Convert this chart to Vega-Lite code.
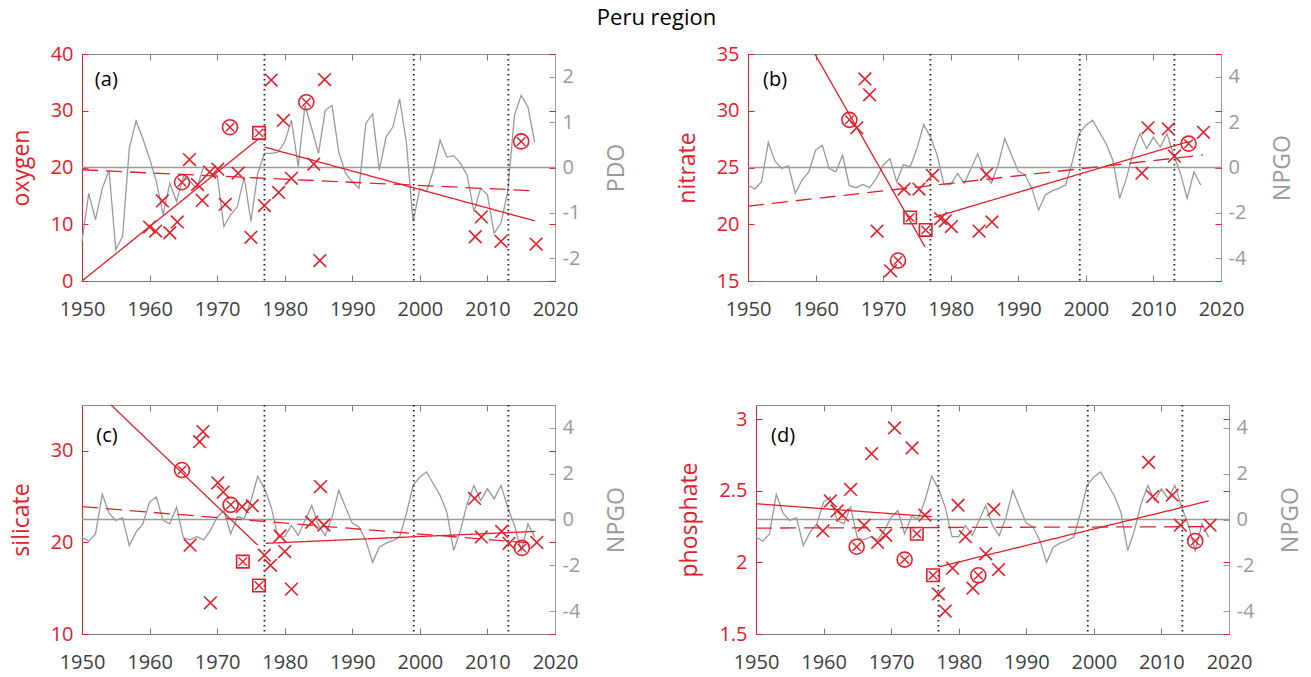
{
  "$schema": "https://vega.github.io/schema/vega-lite/v6.json",
  "background": "white",
  "padding": {"left": 9, "top": 6, "right": 5, "bottom": 5},
  "title": {"text": "Peru region", "fontSize": 22, "fontWeight": "normal", "font": "Open Sans", "color": "#000000", "anchor": "middle", "offset": 14},
  "config": {
    "font": "Open Sans",
    "view": {"stroke": "#8a8a8a", "strokeWidth": 1},
    "axis": {"grid": false, "labelFont": "Open Sans", "titleFont": "Open Sans", "labelFontSize": 20, "titleFontSize": 23, "titleFontWeight": "normal", "labelFlush": false, "labelOverlap": false, "tickSize": -6, "tickWidth": 1, "domainWidth": 1},
    "axisBottom": {"labelColor": "#404040", "domainColor": "#7a7a7a", "tickColor": "#7a7a7a", "labelPadding": 24},
    "axisTop": {"labels": false, "domain": false, "tickColor": "#7a7a7a"},
    "axisLeft": {"labelColor": "#e2202a", "titleColor": "#e2202a", "domainColor": "#e2202a", "tickColor": "#e2202a", "labelPadding": 15, "titlePadding": 17},
    "axisRight": {"labelColor": "#9a9a9a", "titleColor": "#9a9a9a", "domainColor": "#9a9a9a", "tickColor": "#9a9a9a", "labelPadding": 13, "titlePadding": 26, "titleAngle": 270, "titleBaseline": "top"}
  },
  "datasets": {
    "pdo": [
      {"x":1950,"v":-1.63},{"x":1951,"v":-0.57},{"x":1952,"v":-1.15},{"x":1953,"v":-0.46},{"x":1954,"v":-0.06},{"x":1955,"v":-1.81},{"x":1956,"v":-1.52},{"x":1957,"v":0.42},{"x":1958,"v":1.02},{"x":1959,"v":0.64},
      {"x":1960,"v":0.2},{"x":1961,"v":-0.31},{"x":1962,"v":-1.04},{"x":1963,"v":-0.35},{"x":1964,"v":-0.75},{"x":1965,"v":-0.2},{"x":1966,"v":-0.31},{"x":1967,"v":-0.46},{"x":1968,"v":0.02},{"x":1969,"v":-0.13},
      {"x":1970,"v":-0.17},{"x":1971,"v":-1.3},{"x":1972,"v":-1.04},{"x":1973,"v":-0.86},{"x":1974,"v":-0.2},{"x":1975,"v":-1.19},{"x":1976,"v":-0.13},{"x":1977,"v":0.31},{"x":1978,"v":0.31},{"x":1979,"v":0.34},
      {"x":1980,"v":0.56},{"x":1981,"v":1.04},{"x":1982,"v":0.02},{"x":1983,"v":1.37},{"x":1984,"v":0.86},{"x":1985,"v":0.31},{"x":1986,"v":1.26},{"x":1987,"v":1.37},{"x":1988,"v":0.34},{"x":1989,"v":-0.13},
      {"x":1990,"v":-0.31},{"x":1991,"v":-0.46},{"x":1992,"v":0.97},{"x":1993,"v":1.18},{"x":1994,"v":-0.06},{"x":1995,"v":0.67},{"x":1996,"v":0.89},{"x":1997,"v":1.51},{"x":1998,"v":0.56},{"x":1999,"v":-1.19},
      {"x":2000,"v":-0.46},{"x":2001,"v":-0.53},{"x":2002,"v":-0.06},{"x":2003,"v":0.6},{"x":2004,"v":0.23},{"x":2005,"v":0.26},{"x":2006,"v":0.09},{"x":2007,"v":-0.17},{"x":2008,"v":-0.97},{"x":2009,"v":-0.46},
      {"x":2010,"v":-0.6},{"x":2011,"v":-1.45},{"x":2012,"v":-1.23},{"x":2013,"v":-0.53},{"x":2014,"v":1.15},{"x":2015,"v":1.59},{"x":2016,"v":1.33},{"x":2017,"v":0.56}
    ],
    "npgo": [
      {"x":1950,"v":-0.77},{"x":1951,"v":-0.95},{"x":1952,"v":-0.63},{"x":1953,"v":1.1},{"x":1954,"v":0.28},{"x":1955,"v":-0.04},{"x":1956,"v":0.07},{"x":1957,"v":-1.14},{"x":1958,"v":-0.55},{"x":1959,"v":-0.19},
      {"x":1960,"v":0.76},{"x":1961,"v":0.98},{"x":1962,"v":-0.04},{"x":1963,"v":-0.19},{"x":1964,"v":0.54},{"x":1965,"v":-0.8},{"x":1966,"v":-0.89},{"x":1967,"v":-0.75},{"x":1968,"v":-0.89},{"x":1969,"v":-0.48},
      {"x":1970,"v":0.1},{"x":1971,"v":0.39},{"x":1972,"v":-0.63},{"x":1973,"v":0.13},{"x":1974,"v":0.03},{"x":1975,"v":0.83},{"x":1976,"v":1.89},{"x":1977,"v":1.35},{"x":1978,"v":0.54},{"x":1979,"v":-0.75},
      {"x":1980,"v":-0.75},{"x":1981,"v":-0.26},{"x":1982,"v":-0.7},{"x":1983,"v":-0.04},{"x":1984,"v":0.61},{"x":1985,"v":-0.26},{"x":1986,"v":-0.7},{"x":1987,"v":0.1},{"x":1988,"v":1.27},{"x":1989,"v":0.54},
      {"x":1990,"v":-0.16},{"x":1991,"v":-0.33},{"x":1992,"v":-0.92},{"x":1993,"v":-1.87},{"x":1994,"v":-1.21},{"x":1995,"v":-1.03},{"x":1996,"v":-0.92},{"x":1997,"v":-0.77},{"x":1998,"v":0.25},{"x":1999,"v":1.49},
      {"x":2000,"v":1.86},{"x":2001,"v":2.08},{"x":2002,"v":1.56},{"x":2003,"v":1.05},{"x":2004,"v":0.32},{"x":2005,"v":-1.36},{"x":2006,"v":-0.48},{"x":2007,"v":0.69},{"x":2008,"v":1.49},{"x":2009,"v":0.83},
      {"x":2010,"v":1.34},{"x":2011,"v":0.9},{"x":2012,"v":1.49},{"x":2013,"v":0.54},{"x":2014,"v":-0.26},{"x":2015,"v":-1.36},{"x":2016,"v":-0.19},{"x":2017,"v":-0.77}
    ],
    "vlines": [{"x":1977},{"x":1999.1},{"x":2013.1}],
    "fitA": [{"seg":"s1","x":1950,"y":0},{"seg":"s1","x":1976.2,"y":25.1},{"seg":"s2","x":1977,"y":23.6},{"seg":"s2","x":2017,"y":10.6},{"seg":"d","x":1950,"y":19.6},{"seg":"d","x":2017,"y":15.9}],
    "fitB": [{"seg":"s1","x":1959.9,"y":35},{"seg":"s1","x":1976.2,"y":18.0},{"seg":"s2","x":1977.5,"y":20.6},{"seg":"s2","x":2015.3,"y":27.3},{"seg":"d","x":1950,"y":21.6},{"seg":"d","x":2017.3,"y":26.1}],
    "fitC": [{"seg":"s1","x":1954.3,"y":35},{"seg":"s1","x":1976,"y":19.7},{"seg":"s2","x":1977.2,"y":19.9},{"seg":"s2","x":2017.1,"y":21.2},{"seg":"d","x":1950,"y":23.9},{"seg":"d","x":2017,"y":19.9}],
    "fitD": [{"seg":"s1","x":1950,"y":2.41},{"seg":"s1","x":1976,"y":2.32},{"seg":"s2","x":1977.1,"y":1.97},{"seg":"s2","x":2017,"y":2.43},{"seg":"d","x":1950,"y":2.24},{"seg":"d","x":2017.2,"y":2.25}],
    "ptsA": [
      {"x":1960.0,"y":9.5,"m":"x"},{"x":1960.9,"y":8.8,"m":"x"},{"x":1961.9,"y":14.1,"m":"x"},{"x":1963.0,"y":8.5,"m":"x"},{"x":1964.1,"y":10.4,"m":"x"},{"x":1964.8,"y":17.4,"m":"o"},
      {"x":1965.9,"y":21.4,"m":"x"},{"x":1967.1,"y":17.0,"m":"x"},{"x":1967.8,"y":14.2,"m":"x"},{"x":1968.9,"y":19.2,"m":"x"},{"x":1970.1,"y":19.7,"m":"x"},{"x":1971.2,"y":13.5,"m":"x"},
      {"x":1971.9,"y":27.1,"m":"o"},{"x":1973.1,"y":19.0,"m":"x"},{"x":1975.0,"y":7.7,"m":"x"},{"x":1976.2,"y":26.1,"m":"s"},{"x":1977.0,"y":13.3,"m":"x"},{"x":1978.0,"y":35.4,"m":"x"},
      {"x":1979.1,"y":15.6,"m":"x"},{"x":1979.8,"y":28.3,"m":"x"},{"x":1981.0,"y":18.1,"m":"x"},{"x":1983.2,"y":31.5,"m":"o"},{"x":1984.3,"y":20.6,"m":"x"},{"x":1985.2,"y":3.6,"m":"x"},
      {"x":1985.9,"y":35.5,"m":"x"},{"x":2008.2,"y":7.8,"m":"x"},{"x":2009.1,"y":11.3,"m":"x"},{"x":2012.0,"y":7.0,"m":"x"},{"x":2015.0,"y":24.6,"m":"o"},{"x":2017.2,"y":6.5,"m":"x"}
    ],
    "ptsB": [
      {"x":1965.0,"y":29.2,"m":"o"},{"x":1966.1,"y":28.5,"m":"x"},{"x":1967.3,"y":32.8,"m":"x"},{"x":1968.0,"y":31.4,"m":"x"},{"x":1969.1,"y":19.4,"m":"x"},{"x":1971.1,"y":15.9,"m":"x"},
      {"x":1972.2,"y":16.8,"m":"o"},{"x":1973.1,"y":23.1,"m":"x"},{"x":1975.3,"y":23.1,"m":"x"},{"x":1974.0,"y":20.6,"m":"s"},{"x":1976.3,"y":19.5,"m":"s"},{"x":1977.3,"y":24.3,"m":"x"},
      {"x":1978.5,"y":20.5,"m":"x"},{"x":1979.2,"y":20.3,"m":"x"},{"x":1980.1,"y":19.8,"m":"x"},{"x":1984.2,"y":19.4,"m":"x"},{"x":1985.3,"y":24.4,"m":"x"},{"x":1986.1,"y":20.2,"m":"x"},
      {"x":2008.3,"y":24.5,"m":"x"},{"x":2009.2,"y":28.5,"m":"x"},{"x":2012.2,"y":28.4,"m":"x"},{"x":2013.1,"y":26.0,"m":"x"},{"x":2015.2,"y":27.1,"m":"o"},{"x":2017.4,"y":28.1,"m":"x"}
    ],
    "ptsC": [
      {"x":1964.8,"y":27.9,"m":"o"},{"x":1966.0,"y":19.7,"m":"x"},{"x":1967.4,"y":31.0,"m":"x"},{"x":1967.9,"y":32.1,"m":"x"},{"x":1969.0,"y":13.4,"m":"x"},{"x":1970.1,"y":26.5,"m":"x"},
      {"x":1970.9,"y":25.5,"m":"x"},{"x":1972.0,"y":24.1,"m":"o"},{"x":1973.7,"y":23.9,"m":"x"},{"x":1975.2,"y":24.0,"m":"x"},{"x":1973.8,"y":17.9,"m":"s"},{"x":1976.2,"y":15.3,"m":"s"},
      {"x":1977.0,"y":18.6,"m":"x"},{"x":1977.9,"y":17.5,"m":"x"},{"x":1979.3,"y":20.7,"m":"x"},{"x":1980.0,"y":19.0,"m":"x"},{"x":1981.0,"y":14.9,"m":"x"},{"x":1984.0,"y":22.2,"m":"x"},
      {"x":1985.3,"y":26.1,"m":"x"},{"x":1985.8,"y":21.9,"m":"x"},{"x":2008.1,"y":24.8,"m":"x"},{"x":2009.1,"y":20.6,"m":"x"},{"x":2012.1,"y":21.2,"m":"x"},{"x":2013.2,"y":19.9,"m":"x"},
      {"x":2015.1,"y":19.4,"m":"o"},{"x":2017.3,"y":20.0,"m":"x"}
    ],
    "ptsD": [
      {"x":1959.9,"y":2.22,"m":"x"},{"x":1961.0,"y":2.43,"m":"x"},{"x":1962.0,"y":2.36,"m":"x"},{"x":1962.8,"y":2.33,"m":"x"},{"x":1964.0,"y":2.51,"m":"x"},{"x":1964.9,"y":2.11,"m":"o"},
      {"x":1966.0,"y":2.26,"m":"x"},{"x":1967.1,"y":2.76,"m":"x"},{"x":1968.0,"y":2.14,"m":"x"},{"x":1969.2,"y":2.19,"m":"x"},{"x":1970.5,"y":2.94,"m":"x"},{"x":1972.0,"y":2.02,"m":"o"},
      {"x":1973.1,"y":2.80,"m":"x"},{"x":1973.8,"y":2.20,"m":"s"},{"x":1975.0,"y":2.33,"m":"x"},{"x":1976.2,"y":1.91,"m":"s"},{"x":1977.0,"y":1.78,"m":"x"},{"x":1978.0,"y":1.66,"m":"x"},
      {"x":1979.1,"y":1.96,"m":"x"},{"x":1979.9,"y":2.40,"m":"x"},{"x":1981.0,"y":2.18,"m":"x"},{"x":1982.1,"y":1.82,"m":"x"},{"x":1982.9,"y":1.91,"m":"o"},{"x":1984.0,"y":2.06,"m":"x"},
      {"x":1985.2,"y":2.37,"m":"x"},{"x":1985.9,"y":1.95,"m":"x"},{"x":2008.1,"y":2.70,"m":"x"},{"x":2008.7,"y":2.46,"m":"x"},{"x":2011.6,"y":2.47,"m":"x"},{"x":2012.8,"y":2.26,"m":"x"},
      {"x":2015.0,"y":2.15,"m":"o"},{"x":2017.2,"y":2.26,"m":"x"}
    ]
  },
  "spacing": 81,
  "vconcat": [
    {
      "spacing": 193,
      "bounds": "flush",
      "hconcat": [
        {
          "width": 473, "height": 227,
          "resolve": {"scale": {"y": "independent"}, "axis": {"x": "independent", "y": "independent"}},
          "layer": [
            {"layer": [
              {"data": {"name": "pdo"}, "mark": {"type": "line", "color": "#9a9a9a", "strokeWidth": 1.3},
               "encoding": {
                 "x": {"field": "x", "type": "quantitative", "scale": {"domain": [1950, 2020], "nice": false, "zero": false}, "axis": {"orient": "top", "values": [1950,1960,1970,1980,1990,2000,2010,2020], "labels": false, "domain": false, "title": null}},
                 "y": {"field": "v", "type": "quantitative", "scale": {"domain": [-2.5, 2.5], "nice": false, "zero": false}, "axis": {"orient": "right", "values": [-2,-1,0,1,2], "title": "PDO", "labelExpr": "datum.value < 0 ? '-' + format(-datum.value, 'd') : datum.label"}}
               }},
              {"data": {"values": [{}]}, "mark": {"type": "rule", "color": "#9a9a9a", "strokeWidth": 1.3},
               "encoding": {"y": {"datum": 0, "type": "quantitative", "axis": {"orient": "right", "values": [-2,-1,0,1,2], "title": "PDO", "labelExpr": "datum.value < 0 ? '-' + format(-datum.value, 'd') : datum.label"}}}}
            ]},
            {"layer": [
              {"data": {"name": "vlines"}, "mark": {"type": "rule", "color": "#222222", "strokeWidth": 1.8, "strokeDash": [1.5, 3.5]},
               "encoding": {"x": {"field": "x", "type": "quantitative", "scale": {"domain": [1950, 2020], "nice": false, "zero": false}, "axis": {"orient": "bottom", "values": [1950,1960,1970,1980,1990,2000,2010,2020], "format": "d", "title": null}}}},
              {"data": {"name": "fitA"}, "mark": {"type": "line", "color": "#e2202a", "strokeWidth": 1.3},
               "encoding": {
                 "x": {"field": "x", "type": "quantitative", "scale": {"domain": [1950, 2020], "nice": false, "zero": false}},
                 "y": {"field": "y", "type": "quantitative", "scale": {"domain": [0, 40], "nice": false, "zero": false}, "axis": {"orient": "left", "values": [0,10,20,30,40], "title": "oxygen"}},
                 "strokeDash": {"field": "seg", "type": "nominal", "scale": {"domain": ["s1","s2","d"], "range": [[1,0],[1,0],[16,8]]}, "legend": null}
               }},
              {"data": {"name": "ptsA"}, "transform": [{"filter": "datum.m == 'x'"}], "mark": {"type": "point", "shape": "M-1,-1L1,1M-1,1L1,-1", "size": 160, "color": "#e2202a", "filled": false, "strokeWidth": 1.6, "opacity": 1},
               "encoding": {"x": {"field": "x", "type": "quantitative"}, "y": {"field": "y", "type": "quantitative"}}},
              {"data": {"name": "ptsA"}, "transform": [{"filter": "datum.m == 'o'"}], "mark": {"type": "point", "shape": "circle", "size": 225, "color": "#e2202a", "filled": false, "strokeWidth": 1.6, "opacity": 1},
               "encoding": {"x": {"field": "x", "type": "quantitative"}, "y": {"field": "y", "type": "quantitative"}}},
              {"data": {"name": "ptsA"}, "transform": [{"filter": "datum.m == 's'"}], "mark": {"type": "point", "shape": "square", "size": 156, "color": "#e2202a", "filled": false, "strokeWidth": 1.6, "opacity": 1},
               "encoding": {"x": {"field": "x", "type": "quantitative"}, "y": {"field": "y", "type": "quantitative"}}},
              {"data": {"name": "ptsA"}, "transform": [{"filter": "datum.m != 'x'"}], "mark": {"type": "point", "shape": "M-1,-1L1,1M-1,1L1,-1", "size": 72, "color": "#e2202a", "filled": false, "strokeWidth": 1.4, "opacity": 1},
               "encoding": {"x": {"field": "x", "type": "quantitative"}, "y": {"field": "y", "type": "quantitative"}}},
              {"data": {"values": [{"label": "(a)"}]}, "mark": {"type": "text", "fontSize": 20, "color": "#000000", "align": "center", "baseline": "middle", "font": "Open Sans"},
               "encoding": {"x": {"datum": 1953.6, "type": "quantitative"}, "y": {"datum": 35.4, "type": "quantitative"}, "text": {"field": "label"}}}
            ]},
            {"data": {"values": [{}]}, "mark": {"type": "rule", "opacity": 0},
             "encoding": {"y": {"datum": 20, "type": "quantitative", "scale": {"domain": [0, 40], "nice": false, "zero": false}, "axis": {"orient": "right", "values": [0,10,20,30,40], "labels": false, "domain": false, "title": null, "tickColor": "#e2202a"}}}}
          ]
        },
        {
          "width": 473, "height": 227,
          "resolve": {"scale": {"y": "independent"}, "axis": {"x": "independent", "y": "independent"}},
          "layer": [
            {"layer": [
              {"data": {"name": "npgo"}, "mark": {"type": "line", "color": "#9a9a9a", "strokeWidth": 1.3},
               "encoding": {
                 "x": {"field": "x", "type": "quantitative", "scale": {"domain": [1950, 2020], "nice": false, "zero": false}, "axis": {"orient": "top", "values": [1950,1960,1970,1980,1990,2000,2010,2020], "labels": false, "domain": false, "title": null}},
                 "y": {"field": "v", "type": "quantitative", "scale": {"domain": [-5, 5], "nice": false, "zero": false}, "axis": {"orient": "right", "values": [-4,-2,0,2,4], "title": "NPGO", "labelExpr": "datum.value < 0 ? '-' + format(-datum.value, 'd') : datum.label"}}
               }},
              {"data": {"values": [{}]}, "mark": {"type": "rule", "color": "#9a9a9a", "strokeWidth": 1.3},
               "encoding": {"y": {"datum": 0, "type": "quantitative", "axis": {"orient": "right", "values": [-4,-2,0,2,4], "title": "NPGO", "labelExpr": "datum.value < 0 ? '-' + format(-datum.value, 'd') : datum.label"}}}}
            ]},
            {"layer": [
              {"data": {"name": "vlines"}, "mark": {"type": "rule", "color": "#222222", "strokeWidth": 1.8, "strokeDash": [1.5, 3.5]},
               "encoding": {"x": {"field": "x", "type": "quantitative", "scale": {"domain": [1950, 2020], "nice": false, "zero": false}, "axis": {"orient": "bottom", "values": [1950,1960,1970,1980,1990,2000,2010,2020], "format": "d", "title": null}}}},
              {"data": {"name": "fitB"}, "mark": {"type": "line", "color": "#e2202a", "strokeWidth": 1.3},
               "encoding": {
                 "x": {"field": "x", "type": "quantitative", "scale": {"domain": [1950, 2020], "nice": false, "zero": false}},
                 "y": {"field": "y", "type": "quantitative", "scale": {"domain": [15, 35], "nice": false, "zero": false}, "axis": {"orient": "left", "values": [15,20,25,30,35], "title": "nitrate"}},
                 "strokeDash": {"field": "seg", "type": "nominal", "scale": {"domain": ["s1","s2","d"], "range": [[1,0],[1,0],[16,8]]}, "legend": null}
               }},
              {"data": {"name": "ptsB"}, "transform": [{"filter": "datum.m == 'x'"}], "mark": {"type": "point", "shape": "M-1,-1L1,1M-1,1L1,-1", "size": 160, "color": "#e2202a", "filled": false, "strokeWidth": 1.6, "opacity": 1},
               "encoding": {"x": {"field": "x", "type": "quantitative"}, "y": {"field": "y", "type": "quantitative"}}},
              {"data": {"name": "ptsB"}, "transform": [{"filter": "datum.m == 'o'"}], "mark": {"type": "point", "shape": "circle", "size": 225, "color": "#e2202a", "filled": false, "strokeWidth": 1.6, "opacity": 1},
               "encoding": {"x": {"field": "x", "type": "quantitative"}, "y": {"field": "y", "type": "quantitative"}}},
              {"data": {"name": "ptsB"}, "transform": [{"filter": "datum.m == 's'"}], "mark": {"type": "point", "shape": "square", "size": 156, "color": "#e2202a", "filled": false, "strokeWidth": 1.6, "opacity": 1},
               "encoding": {"x": {"field": "x", "type": "quantitative"}, "y": {"field": "y", "type": "quantitative"}}},
              {"data": {"name": "ptsB"}, "transform": [{"filter": "datum.m != 'x'"}], "mark": {"type": "point", "shape": "M-1,-1L1,1M-1,1L1,-1", "size": 72, "color": "#e2202a", "filled": false, "strokeWidth": 1.4, "opacity": 1},
               "encoding": {"x": {"field": "x", "type": "quantitative"}, "y": {"field": "y", "type": "quantitative"}}},
              {"data": {"values": [{"label": "(b)"}]}, "mark": {"type": "text", "fontSize": 20, "color": "#000000", "align": "center", "baseline": "middle", "font": "Open Sans"},
               "encoding": {"x": {"datum": 1954.0, "type": "quantitative"}, "y": {"datum": 32.7, "type": "quantitative"}, "text": {"field": "label"}}}
            ]},
            {"data": {"values": [{}]}, "mark": {"type": "rule", "opacity": 0},
             "encoding": {"y": {"datum": 25, "type": "quantitative", "scale": {"domain": [15, 35], "nice": false, "zero": false}, "axis": {"orient": "right", "values": [15,20,25,30,35], "labels": false, "domain": false, "title": null, "tickColor": "#e2202a"}}}}
          ]
        }
      ]
    },
    {
      "spacing": 201,
      "bounds": "flush",
      "hconcat": [
        {
          "width": 473, "height": 229,
          "resolve": {"scale": {"y": "independent"}, "axis": {"x": "independent", "y": "independent"}},
          "layer": [
            {"layer": [
              {"data": {"name": "npgo"}, "mark": {"type": "line", "color": "#9a9a9a", "strokeWidth": 1.3},
               "encoding": {
                 "x": {"field": "x", "type": "quantitative", "scale": {"domain": [1950, 2020], "nice": false, "zero": false}, "axis": {"orient": "top", "values": [1950,1960,1970,1980,1990,2000,2010,2020], "labels": false, "domain": false, "title": null}},
                 "y": {"field": "v", "type": "quantitative", "scale": {"domain": [-5, 5], "nice": false, "zero": false}, "axis": {"orient": "right", "values": [-4,-2,0,2,4], "title": "NPGO", "labelExpr": "datum.value < 0 ? '-' + format(-datum.value, 'd') : datum.label"}}
               }},
              {"data": {"values": [{}]}, "mark": {"type": "rule", "color": "#9a9a9a", "strokeWidth": 1.3},
               "encoding": {"y": {"datum": 0, "type": "quantitative", "axis": {"orient": "right", "values": [-4,-2,0,2,4], "title": "NPGO", "labelExpr": "datum.value < 0 ? '-' + format(-datum.value, 'd') : datum.label"}}}}
            ]},
            {"layer": [
              {"data": {"name": "vlines"}, "mark": {"type": "rule", "color": "#222222", "strokeWidth": 1.8, "strokeDash": [1.5, 3.5]},
               "encoding": {"x": {"field": "x", "type": "quantitative", "scale": {"domain": [1950, 2020], "nice": false, "zero": false}, "axis": {"orient": "bottom", "values": [1950,1960,1970,1980,1990,2000,2010,2020], "format": "d", "title": null}}}},
              {"data": {"name": "fitC"}, "mark": {"type": "line", "color": "#e2202a", "strokeWidth": 1.3},
               "encoding": {
                 "x": {"field": "x", "type": "quantitative", "scale": {"domain": [1950, 2020], "nice": false, "zero": false}},
                 "y": {"field": "y", "type": "quantitative", "scale": {"domain": [10, 35], "nice": false, "zero": false}, "axis": {"orient": "left", "values": [10,20,30], "title": "silicate"}},
                 "strokeDash": {"field": "seg", "type": "nominal", "scale": {"domain": ["s1","s2","d"], "range": [[1,0],[1,0],[16,8]]}, "legend": null}
               }},
              {"data": {"name": "ptsC"}, "transform": [{"filter": "datum.m == 'x'"}], "mark": {"type": "point", "shape": "M-1,-1L1,1M-1,1L1,-1", "size": 160, "color": "#e2202a", "filled": false, "strokeWidth": 1.6, "opacity": 1},
               "encoding": {"x": {"field": "x", "type": "quantitative"}, "y": {"field": "y", "type": "quantitative"}}},
              {"data": {"name": "ptsC"}, "transform": [{"filter": "datum.m == 'o'"}], "mark": {"type": "point", "shape": "circle", "size": 225, "color": "#e2202a", "filled": false, "strokeWidth": 1.6, "opacity": 1},
               "encoding": {"x": {"field": "x", "type": "quantitative"}, "y": {"field": "y", "type": "quantitative"}}},
              {"data": {"name": "ptsC"}, "transform": [{"filter": "datum.m == 's'"}], "mark": {"type": "point", "shape": "square", "size": 156, "color": "#e2202a", "filled": false, "strokeWidth": 1.6, "opacity": 1},
               "encoding": {"x": {"field": "x", "type": "quantitative"}, "y": {"field": "y", "type": "quantitative"}}},
              {"data": {"name": "ptsC"}, "transform": [{"filter": "datum.m != 'x'"}], "mark": {"type": "point", "shape": "M-1,-1L1,1M-1,1L1,-1", "size": 72, "color": "#e2202a", "filled": false, "strokeWidth": 1.4, "opacity": 1},
               "encoding": {"x": {"field": "x", "type": "quantitative"}, "y": {"field": "y", "type": "quantitative"}}},
              {"data": {"values": [{"label": "(c)"}]}, "mark": {"type": "text", "fontSize": 20, "color": "#000000", "align": "center", "baseline": "middle", "font": "Open Sans"},
               "encoding": {"x": {"datum": 1953.7, "type": "quantitative"}, "y": {"datum": 31.6, "type": "quantitative"}, "text": {"field": "label"}}}
            ]},
            {"data": {"values": [{}]}, "mark": {"type": "rule", "opacity": 0},
             "encoding": {"y": {"datum": 20, "type": "quantitative", "scale": {"domain": [10, 35], "nice": false, "zero": false}, "axis": {"orient": "right", "values": [10,20,30], "labels": false, "domain": false, "title": null, "tickColor": "#e2202a"}}}}
          ]
        },
        {
          "width": 473, "height": 229,
          "resolve": {"scale": {"y": "independent"}, "axis": {"x": "independent", "y": "independent"}},
          "layer": [
            {"layer": [
              {"data": {"name": "npgo"}, "mark": {"type": "line", "color": "#9a9a9a", "strokeWidth": 1.3},
               "encoding": {
                 "x": {"field": "x", "type": "quantitative", "scale": {"domain": [1950, 2020], "nice": false, "zero": false}, "axis": {"orient": "top", "values": [1950,1960,1970,1980,1990,2000,2010,2020], "labels": false, "domain": false, "title": null}},
                 "y": {"field": "v", "type": "quantitative", "scale": {"domain": [-5, 5], "nice": false, "zero": false}, "axis": {"orient": "right", "values": [-4,-2,0,2,4], "title": "NPGO", "labelExpr": "datum.value < 0 ? '-' + format(-datum.value, 'd') : datum.label"}}
               }},
              {"data": {"values": [{}]}, "mark": {"type": "rule", "color": "#9a9a9a", "strokeWidth": 1.3},
               "encoding": {"y": {"datum": 0, "type": "quantitative", "axis": {"orient": "right", "values": [-4,-2,0,2,4], "title": "NPGO", "labelExpr": "datum.value < 0 ? '-' + format(-datum.value, 'd') : datum.label"}}}}
            ]},
            {"layer": [
              {"data": {"name": "vlines"}, "mark": {"type": "rule", "color": "#222222", "strokeWidth": 1.8, "strokeDash": [1.5, 3.5]},
               "encoding": {"x": {"field": "x", "type": "quantitative", "scale": {"domain": [1950, 2020], "nice": false, "zero": false}, "axis": {"orient": "bottom", "values": [1950,1960,1970,1980,1990,2000,2010,2020], "format": "d", "title": null}}}},
              {"data": {"name": "fitD"}, "mark": {"type": "line", "color": "#e2202a", "strokeWidth": 1.3},
               "encoding": {
                 "x": {"field": "x", "type": "quantitative", "scale": {"domain": [1950, 2020], "nice": false, "zero": false}},
                 "y": {"field": "y", "type": "quantitative", "scale": {"domain": [1.5, 3.1], "nice": false, "zero": false}, "axis": {"orient": "left", "values": [1.5,2,2.5,3], "format": "~g", "title": "phosphate"}},
                 "strokeDash": {"field": "seg", "type": "nominal", "scale": {"domain": ["s1","s2","d"], "range": [[1,0],[1,0],[16,8]]}, "legend": null}
               }},
              {"data": {"name": "ptsD"}, "transform": [{"filter": "datum.m == 'x'"}], "mark": {"type": "point", "shape": "M-1,-1L1,1M-1,1L1,-1", "size": 160, "color": "#e2202a", "filled": false, "strokeWidth": 1.6, "opacity": 1},
               "encoding": {"x": {"field": "x", "type": "quantitative"}, "y": {"field": "y", "type": "quantitative"}}},
              {"data": {"name": "ptsD"}, "transform": [{"filter": "datum.m == 'o'"}], "mark": {"type": "point", "shape": "circle", "size": 225, "color": "#e2202a", "filled": false, "strokeWidth": 1.6, "opacity": 1},
               "encoding": {"x": {"field": "x", "type": "quantitative"}, "y": {"field": "y", "type": "quantitative"}}},
              {"data": {"name": "ptsD"}, "transform": [{"filter": "datum.m == 's'"}], "mark": {"type": "point", "shape": "square", "size": 156, "color": "#e2202a", "filled": false, "strokeWidth": 1.6, "opacity": 1},
               "encoding": {"x": {"field": "x", "type": "quantitative"}, "y": {"field": "y", "type": "quantitative"}}},
              {"data": {"name": "ptsD"}, "transform": [{"filter": "datum.m != 'x'"}], "mark": {"type": "point", "shape": "M-1,-1L1,1M-1,1L1,-1", "size": 72, "color": "#e2202a", "filled": false, "strokeWidth": 1.4, "opacity": 1},
               "encoding": {"x": {"field": "x", "type": "quantitative"}, "y": {"field": "y", "type": "quantitative"}}},
              {"data": {"values": [{"label": "(d)"}]}, "mark": {"type": "text", "fontSize": 20, "color": "#000000", "align": "center", "baseline": "middle", "font": "Open Sans"},
               "encoding": {"x": {"datum": 1954.0, "type": "quantitative"}, "y": {"datum": 2.88, "type": "quantitative"}, "text": {"field": "label"}}}
            ]},
            {"data": {"values": [{}]}, "mark": {"type": "rule", "opacity": 0},
             "encoding": {"y": {"datum": 2.3, "type": "quantitative", "scale": {"domain": [1.5, 3.1], "nice": false, "zero": false}, "axis": {"orient": "right", "values": [1.5,2,2.5,3], "labels": false, "domain": false, "title": null, "tickColor": "#e2202a"}}}}
          ]
        }
      ]
    }
  ]
}
